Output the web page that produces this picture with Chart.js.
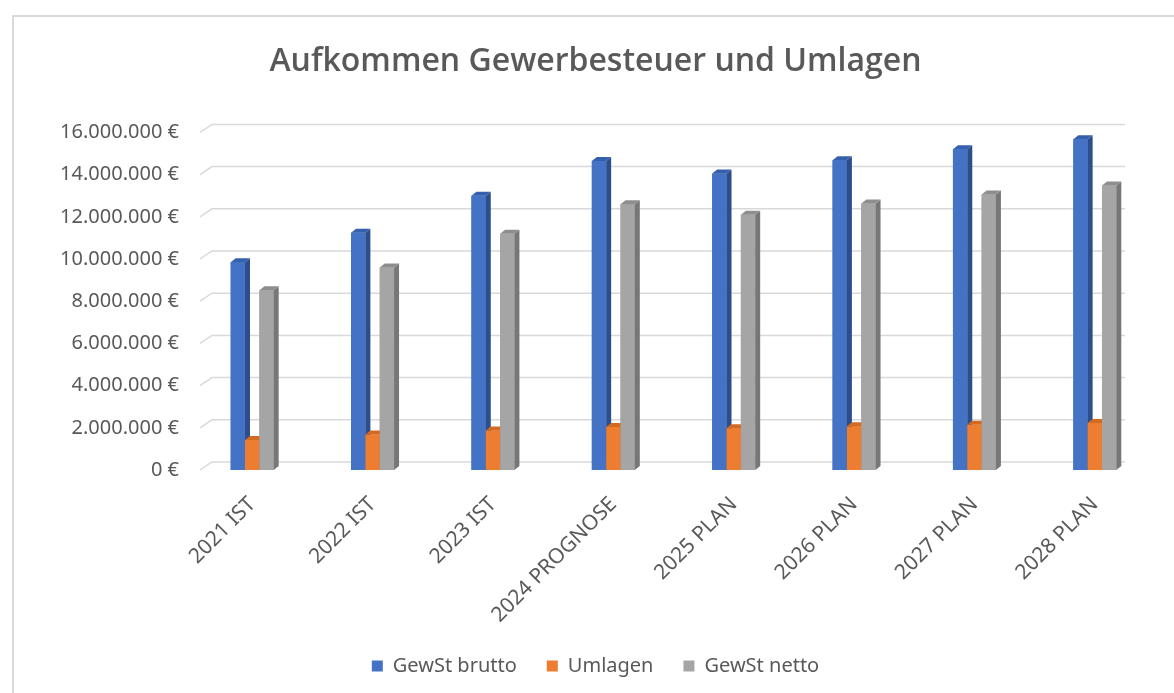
<!DOCTYPE html>
<html>
<head>
<meta charset="utf-8">
<script src="https://cdn.jsdelivr.net/npm/chart.js@4.4.1/dist/chart.umd.min.js"></script>
<style>
  html, body { margin: 0; padding: 0; background: #fff; }
  #frame {
    position: absolute; left: 12px; top: 15px; width: 1162px; height: 678px;
    border-left: 2px solid #dadada; border-top: 2px solid #dadada;
  }
  #wrap { position: absolute; left: 0; top: 0; width: 1174px; height: 693px; }
</style>
</head>
<body>
<div id="frame"></div>
<div id="wrap"><canvas id="chart" width="1174" height="693"></canvas></div>
<script>
const categories = ["2021 IST", "2022 IST", "2023 IST", "2024 PROGNOSE", "2025 PLAN", "2026 PLAN", "2027 PLAN", "2028 PLAN"];
const gewstBrutto = [9850000, 11250000, 13000000, 14650000, 14050000, 14680000, 15200000, 15680000];
const umlagen = [1420000, 1680000, 1870000, 2040000, 1980000, 2070000, 2140000, 2230000];
const gewstNetto = [8520000, 9600000, 11200000, 12600000, 12100000, 12630000, 13060000, 13480000];

const textGray = "#595959";
const depthX = 5;
const depthY = 4;

function euro(v) {
    const s = String(Math.round(v)).replace(/\B(?=(\d{3})+(?!\d))/g, ".");
    return s + " €";
}

// redraw the columns left to right with darker side and top faces (excel 3d look)
const fake3D = {
    id: "fake3D",
    afterDatasetsDraw(chart) {
        const c = chart.ctx;
        c.save();
        chart.data.datasets.forEach((ds, i) => {
            const meta = chart.getDatasetMeta(i);
            for (const bar of meta.data) {
                bar.draw(c);
                const p = bar.getProps(["x", "y", "base", "width"], true);
                const l = p.x - p.width / 2;
                const r = p.x + p.width / 2;
                c.fillStyle = ds.sideColor;
                c.beginPath();
                c.moveTo(r, p.y);
                c.lineTo(r + depthX, p.y - depthY);
                c.lineTo(r + depthX, p.base - depthY);
                c.lineTo(r, p.base);
                c.closePath();
                c.fill();
                c.fillStyle = ds.topColor;
                c.beginPath();
                c.moveTo(l, p.y);
                c.lineTo(l + depthX, p.y - depthY);
                c.lineTo(r + depthX, p.y - depthY);
                c.lineTo(r, p.y);
                c.closePath();
                c.fill();
            }
        });
        c.restore();
    }
};

// back wall grid lines with the little perspective stub at the left
const backGrid = {
    id: "backGrid",
    beforeDatasetsDraw(chart) {
        const y = chart.scales.y;
        const area = chart.chartArea;
        const c = chart.ctx;
        c.save();
        c.strokeStyle = "#d9d9d9";
        c.lineWidth = 1.5;
        for (let i = 0; i < y.ticks.length; i++) {
            const py = y.getPixelForTick(i);
            c.beginPath();
            c.moveTo(area.left + 8, py);
            c.lineTo(area.left + 20, py - 8);
            c.lineTo(area.right - 30, py - 8);
            c.stroke();
        }
        c.restore();
    }
};

new Chart(document.getElementById("chart"), {
    type: "bar",
    data: {
        labels: categories,
        datasets: [
            { label: "GewSt brutto", data: gewstBrutto, backgroundColor: "#4472C4", sideColor: "#2C4F8C", topColor: "#3560AE" },
            { label: "Umlagen", data: umlagen, backgroundColor: "#ED7D31", sideColor: "#B05A20", topColor: "#D46A22" },
            { label: "GewSt netto", data: gewstNetto, backgroundColor: "#A5A5A5", sideColor: "#777777", topColor: "#8E8E8E" }
        ]
    },
    options: {
        responsive: false,
        animation: false,
        barPercentage: 1.0,
        categoryPercentage: 0.357,
        layout: { padding: { left: 36, right: 19, top: 0, bottom: 7 } },
        scales: {
            x: {
                grid: { display: false },
                border: { display: false },
                afterFit: (scale) => { scale.height = 156; },
                ticks: {
                    color: textGray,
                    font: { family: "Noto Sans", size: 21 },
                    padding: 14,
                    minRotation: 45,
                    maxRotation: 45,
                    autoSkip: false
                }
            },
            y: {
                min: 0,
                max: 16000000,
                grid: { display: false },
                border: { display: false },
                afterFit: (scale) => { scale.width = 156; },
                ticks: {
                    stepSize: 2000000,
                    color: textGray,
                    padding: 5,
                    font: { family: "Noto Sans", size: 20 },
                    callback: (v) => euro(v)
                }
            }
        },
        plugins: {
            title: {
                display: true,
                text: "Aufkommen Gewerbesteuer und Umlagen",
                color: textGray,
                font: { family: "Open Sans", size: 32, weight: "600" },
                padding: { top: 43, bottom: 51 }
            },
            legend: {
                position: "bottom",
                labels: {
                    color: textGray,
                    font: { family: "Noto Sans", size: 20 },
                    boxWidth: 11,
                    boxHeight: 11,
                    padding: 30
                }
            },
            tooltip: { enabled: false }
        }
    },
    plugins: [backGrid, fake3D]
});
</script>
</body>
</html>
